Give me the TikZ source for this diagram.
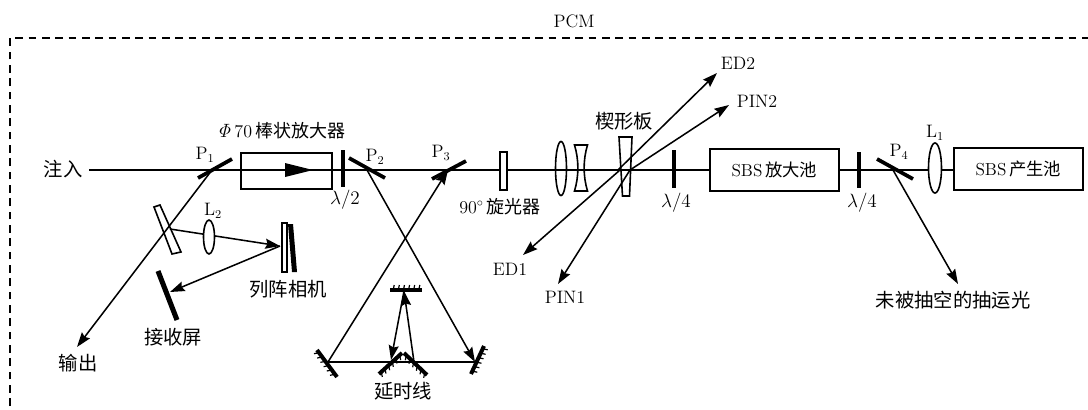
\documentclass[tikz,border=0pt]{standalone}
\usepackage[no-math]{fontspec}
\newfontfamily\cjk{Noto Sans CJK SC}
\usetikzlibrary{arrows.meta,calc}
\tikzset{
  beam/.style={line width=1.15pt},
  ray/.style={beam,-{Stealth[length=11pt,width=7.5pt,inset=1.5pt]}},
  plate/.style={line width=2.8pt},
  optic/.style={draw,line width=1.2pt,fill=white},
  hollow/.style={draw,line width=1.2pt},
  boxed/.style={draw,line width=1.4pt,inner sep=0pt,font=\fontsize{13}{13}\selectfont},
  lbl/.style={inner sep=0pt,font=\fontsize{13.5}{14}\selectfont},
  cj/.style={inner sep=0pt,font=\fontsize{14.5}{15}\selectfont\cjk},
  mirrorline/.style={line width=3pt},
  hatchline/.style={line width=0.9pt}
}
% mirror from #1 to #2, hatch ticks offset by the vector #3
\newcommand{\hatched}[3]{%
  \draw[mirrorline] (#1)--(#2);
  \foreach \tt in {0.1,0.26,0.42,0.58,0.74,0.9}{\draw[hatchline] ($(#1)!\tt!(#2)$)--++#3;}%
}
\begin{document}
\begin{tikzpicture}[x=0.75pt,y=-0.75pt]
\useasboundingbox (0,0) rectangle (1088,410);
\fill[white] (0,0) rectangle (1088,410);
% frame
\coordinate (fbl) at (10,406); \coordinate (ftl) at (10,38); \coordinate (ftr) at (1088,38);
\draw[line width=1.05pt,dash pattern=on 5.8pt off 4.2pt] (fbl)--(ftl)--(ftr);
\node[lbl] (pcm) at (574,21) {PCM};
% points on the axis
\coordinate (in) at (89,170);
\coordinate (p1c) at (212,170);
\coordinate (p2c) at (367,170);
\coordinate (p3c) at (448,170);
\coordinate (wc) at (620,170);
\coordinate (p4c) at (893,170);
% boxes
\node[boxed,minimum width=68.25pt,minimum height=27pt,anchor=north west] (amp) at (240,152) {};
\node[boxed,minimum width=96.75pt,minimum height=31.5pt,anchor=north west] (sbsa) at (709,148) {SBS\,{\cjk 放大池}};
\node[boxed,minimum width=96.75pt,minimum height=31.5pt,anchor=north west] (sbsg) at (953,147) {SBS\,{\cjk 产生池}};
% axis
\draw[beam] (in)--(in -| amp.east);
\draw[beam] (amp.east |- in)--(in -| sbsa.west);
\draw[beam] (sbsa.east |- in)--(in -| sbsg.west);
% amplifier arrow
\coordinate (aa) at (285,163); \coordinate (ab) at (313,170); \coordinate (ac) at (285,177);
\fill (aa)--(ab)--(ac)--cycle;
% pump remainder
\coordinate (pump) at (958,284);
\draw[ray] (p4c)--(pump);
% P mirrors
\coordinate (p1a) at (198,178); \coordinate (p1b) at (232,159);
\coordinate (p2a) at (349,158); \coordinate (p2b) at (385,178);
\coordinate (p3a) at (432,179); \coordinate (p3b) at (466,161);
\coordinate (p4a) at (877,159); \coordinate (p4b) at (913,179);
\draw[plate] (p1a)--(p1b); \draw[plate] (p2a)--(p2b); \draw[plate] (p3a)--(p3b); \draw[plate] (p4a)--(p4b);
% waveplates
\coordinate (w1a) at (343,150); \coordinate (w1b) at (343,187);
\coordinate (w2a) at (674,150); \coordinate (w2b) at (674,188);
\coordinate (w3a) at (859,152); \coordinate (w3b) at (859,188);
\draw[plate] (w1a)--(w1b); \draw[plate] (w2a)--(w2b); \draw[plate] (w3a)--(w3b);
% rotator, lenses, wedge
\draw[optic] (500,152) rectangle (507,190);
\draw[hollow] (561,168.5) ellipse [x radius=5.5,y radius=27];
\draw[hollow] (574.5,145)--(587.5,145) .. controls (583,160) and (583,176) .. (587.5,191)--(574.5,191) .. controls (579,176) and (579,160) .. (574.5,145)--cycle;
\draw[optic] (935,168) ellipse [x radius=6.5,y radius=25];
\draw[hollow] (619,137)--(632,137)--(629.5,196)--(622.5,196)--cycle;
% wedge beams
\coordinate (ed1) at (523,255); \coordinate (ed2) at (717,73);
\coordinate (pin1) at (558,284); \coordinate (pin2) at (729,105);
\coordinate (wb) at (618,170); \coordinate (wd) at (630,170);
\draw[ray] (wc)--(ed1);
\draw[ray] (wb)--(ed2);
\draw[ray] (wd)--(pin1);
\draw[ray] (wd)--(pin2);
% output path
\coordinate (out) at (77,347);
\draw[ray] (p1c)--(out);
% diagnostics
\coordinate (wp) at (170,229);
\coordinate (cam) at (280,246);
\coordinate (scr) at (170,292);
\draw[hollow] (154,207)--(160,205)--(181,252)--(172,254)--cycle;
\draw[ray] (wp)--(cam);
\draw[optic] (209,237) ellipse [x radius=5.5,y radius=17];
\draw[ray] (cam)--(scr);
\draw[optic] (282,223) rectangle (287,272);
\fill (288,224)--(293,224)--(297,272)--(292,272)--cycle;
\coordinate (sa) at (158,271); \coordinate (sb) at (177,320);
\draw[line width=3.8pt] (sa)--(sb);
% delay line
\coordinate (ml) at (328,362); \coordinate (mr) at (475,362);
\coordinate (ca) at (391,360); \coordinate (cb) at (414,362); \coordinate (top) at (404,291);
\draw[ray] (p2c)--(mr);
\draw[ray] (ml)--(p3c);
\draw[beam] (ml)--(mr);
\draw[ray] (cb)--(top);
\draw[ray] (top)--(ca);
\coordinate (m1a) at (337,377); \coordinate (m1b) at (317,350);
\coordinate (m2a) at (402,353); \coordinate (m2b) at (379,374);
\coordinate (m3a) at (404,353); \coordinate (m3b) at (427,375);
\coordinate (m4a) at (471,374); \coordinate (m4b) at (484,346);
\coordinate (m5a) at (390,290); \coordinate (m5b) at (422,290);
\hatched{m1a}{m1b}{(-5,1)}
\hatched{m2a}{m2b}{(1,5)}
\hatched{m3a}{m3b}{(-1,5)}
\hatched{m4a}{m4b}{(5,1)}
\hatched{m5a}{m5b}{(1,-5)}
% labels
\node[lbl] (led2) at (738,63) {ED2};
\node[lbl] (lpin2) at (757,101) {PIN2};
\node[lbl] (led1) at (510,269) {ED1};
\node[lbl] (lpin1) at (565,297) {PIN1};
\node[cj] (lwedge) at (624,121) {楔形板};
\node[lbl] (lrot) at (500,207) {90$^{\circ}$\,{\cjk 旋光器}};
\node[lbl] (lq1) at (676,203) {$\lambda/4$};
\node[lbl] (lq2) at (862,203) {$\lambda/4$};
\node[lbl] (lh) at (345,200) {$\lambda/2$};
\node[lbl] (lp1) at (205,155) {P$_1$};
\node[lbl] (lp2) at (375,157) {P$_2$};
\node[lbl] (lp3) at (441,153) {P$_3$};
\node[lbl] (lp4) at (899,152) {P$_4$};
\node[lbl] (ll1) at (935,133) {L$_1$};
\node[lbl] (ll2) at (213,211) {L$_2$};
\node[lbl] (lamp) at (281,131) {$\mathit{\Phi}$\,70\,{\cjk 棒状放大器}};
\node[cj] (lin) at (63,169) {注入};
\node[cj] (lout) at (78,363) {输出};
\node[cj] (lcam) at (288,289) {列阵相机};
\node[cj] (lscr) at (173,337) {接收屏};
\node[cj] (ldelay) at (403,391) {延时线};
\node[cj] (lpump) at (953,300) {未被抽空的抽运光};
\end{tikzpicture}
\end{document}
